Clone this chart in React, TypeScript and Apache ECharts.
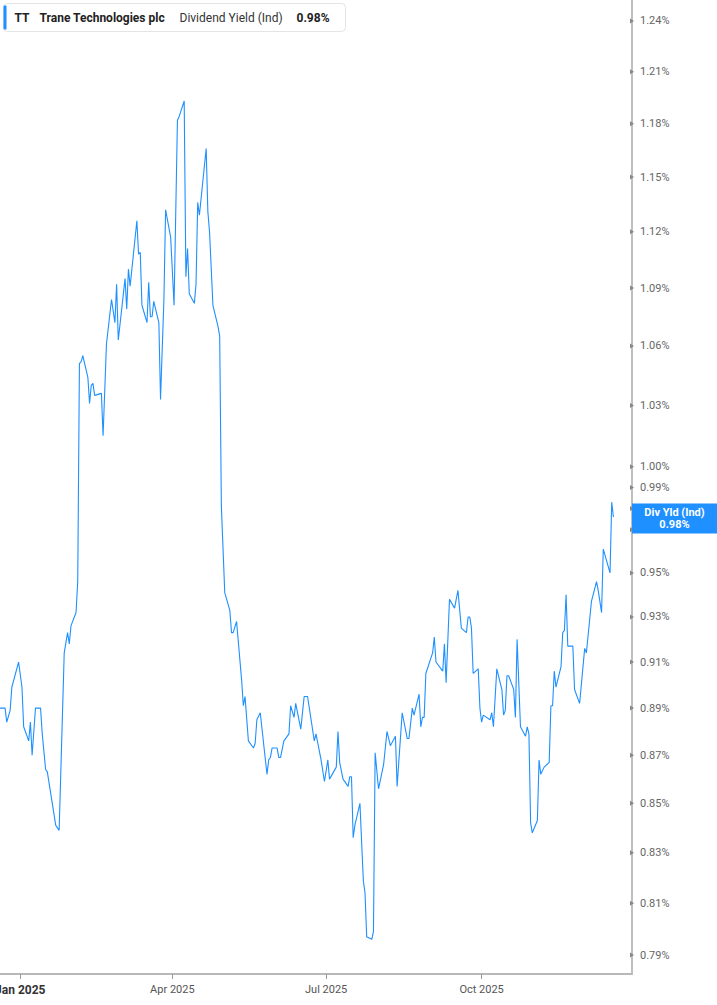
import React, { useEffect, useRef } from "react";
import * as echarts from "echarts";

// daily dividend yield (%) for TT
const dates = [
  "2024-12-20", "2024-12-23", "2024-12-24", "2024-12-26", "2024-12-27", "2024-12-31",
  "2025-01-02", "2025-01-03", "2025-01-06", "2025-01-07", "2025-01-08", "2025-01-10",
  "2025-01-13", "2025-01-14", "2025-01-16", "2025-01-17", "2025-01-22", "2025-01-24",
  "2025-01-27", "2025-01-29", "2025-01-30", "2025-01-31", "2025-02-03", "2025-02-04",
  "2025-02-05", "2025-02-06", "2025-02-07", "2025-02-10", "2025-02-11", "2025-02-12",
  "2025-02-13", "2025-02-14", "2025-02-18", "2025-02-19", "2025-02-21", "2025-02-24",
  "2025-02-26", "2025-02-27", "2025-02-28", "2025-03-04", "2025-03-05", "2025-03-06",
  "2025-03-07", "2025-03-11", "2025-03-12", "2025-03-13", "2025-03-14", "2025-03-17",
  "2025-03-18", "2025-03-19", "2025-03-20", "2025-03-21", "2025-03-24", "2025-03-25",
  "2025-03-27", "2025-03-28", "2025-03-31", "2025-04-02", "2025-04-04", "2025-04-05",
  "2025-04-08", "2025-04-09", "2025-04-10", "2025-04-11", "2025-04-14", "2025-04-15",
  "2025-04-16", "2025-04-17", "2025-04-21", "2025-04-22", "2025-04-23", "2025-04-25",
  "2025-04-28", "2025-04-29", "2025-04-30", "2025-05-02", "2025-05-05", "2025-05-06",
  "2025-05-07", "2025-05-09", "2025-05-12", "2025-05-13", "2025-05-14", "2025-05-16",
  "2025-05-19", "2025-05-20", "2025-05-21", "2025-05-23", "2025-05-27", "2025-05-28",
  "2025-05-29", "2025-05-30", "2025-06-02", "2025-06-03", "2025-06-04", "2025-06-06",
  "2025-06-09", "2025-06-10", "2025-06-12", "2025-06-13", "2025-06-16", "2025-06-18",
  "2025-06-20", "2025-06-24", "2025-06-25", "2025-06-28", "2025-06-30", "2025-07-02",
  "2025-07-03", "2025-07-07", "2025-07-08", "2025-07-09", "2025-07-11", "2025-07-14",
  "2025-07-15", "2025-07-16", "2025-07-17", "2025-07-18", "2025-07-21", "2025-07-23",
  "2025-07-24", "2025-07-25", "2025-07-28", "2025-07-29", "2025-07-30", "2025-08-01",
  "2025-08-04", "2025-08-06", "2025-08-08", "2025-08-11", "2025-08-12", "2025-08-15",
  "2025-08-18", "2025-08-19", "2025-08-21", "2025-08-22", "2025-08-25", "2025-08-26",
  "2025-08-27", "2025-08-28", "2025-08-29", "2025-09-02", "2025-09-03", "2025-09-04",
  "2025-09-08", "2025-09-09", "2025-09-10", "2025-09-12", "2025-09-15", "2025-09-17",
  "2025-09-19", "2025-09-22", "2025-09-23", "2025-09-24", "2025-09-25", "2025-09-26",
  "2025-09-29", "2025-09-30", "2025-10-01", "2025-10-02", "2025-10-06", "2025-10-07",
  "2025-10-08", "2025-10-10", "2025-10-13", "2025-10-14", "2025-10-15", "2025-10-16",
  "2025-10-17", "2025-10-19", "2025-10-20", "2025-10-21", "2025-10-22", "2025-10-24",
  "2025-10-27", "2025-10-28", "2025-10-29", "2025-10-30", "2025-10-31", "2025-11-03",
  "2025-11-04", "2025-11-05", "2025-11-07", "2025-11-10", "2025-11-11", "2025-11-12",
  "2025-11-13", "2025-11-14", "2025-11-17", "2025-11-18", "2025-11-19", "2025-11-20",
  "2025-11-21", "2025-11-24", "2025-11-25", "2025-11-28", "2025-12-01", "2025-12-02",
  "2025-12-05", "2025-12-08", "2025-12-09", "2025-12-11", "2025-12-12", "2025-12-16",
  "2025-12-17", "2025-12-18",
];

const yieldValues = [
  0.890, 0.890, 0.884, 0.889, 0.899, 0.910,
  0.899, 0.882, 0.876, 0.884, 0.870, 0.890,
  0.890, 0.879, 0.864, 0.863, 0.841, 0.839,
  0.914, 0.923, 0.918, 0.926, 0.932, 0.946,
  1.051, 1.052, 1.055, 1.044, 1.031, 1.040,
  1.041, 1.035, 1.036, 1.015, 1.061, 1.084,
  1.072, 1.092, 1.063, 1.095, 1.079, 1.100,
  1.091, 1.126, 1.108, 1.109, 1.081, 1.072,
  1.093, 1.075, 1.075, 1.083, 1.072, 1.033,
  1.084, 1.132, 1.117, 1.081, 1.182, 1.184,
  1.193, 1.096, 1.111, 1.087, 1.082, 1.092,
  1.136, 1.129, 1.166, 1.131, 1.120, 1.081,
  1.070, 1.065, 0.981, 0.941, 0.933, 0.923,
  0.923, 0.928, 0.902, 0.891, 0.895, 0.876,
  0.873, 0.875, 0.885, 0.888, 0.862, 0.868,
  0.869, 0.873, 0.873, 0.869, 0.869, 0.876,
  0.879, 0.891, 0.886, 0.892, 0.881, 0.895,
  0.895, 0.876, 0.879, 0.868, 0.859, 0.868,
  0.860, 0.865, 0.880, 0.867, 0.860, 0.857,
  0.861, 0.861, 0.836, 0.841, 0.850, 0.819,
  0.814, 0.797, 0.796, 0.799, 0.871, 0.856,
  0.866, 0.880, 0.874, 0.878, 0.857, 0.888,
  0.877, 0.877, 0.890, 0.887, 0.896, 0.882,
  0.886, 0.886, 0.905, 0.914, 0.921, 0.910,
  0.906, 0.918, 0.901, 0.938, 0.934, 0.942,
  0.925, 0.923, 0.930, 0.930, 0.925, 0.905,
  0.907, 0.890, 0.884, 0.887, 0.885, 0.888,
  0.882, 0.907, 0.898, 0.887, 0.889, 0.904,
  0.904, 0.900, 0.898, 0.886, 0.920, 0.882,
  0.878, 0.882, 0.879, 0.842, 0.838, 0.843,
  0.868, 0.862, 0.865, 0.867, 0.891, 0.891,
  0.906, 0.899, 0.908, 0.923, 0.924, 0.940,
  0.917, 0.917, 0.898, 0.892, 0.916, 0.914,
  0.937, 0.946, 0.942, 0.932, 0.961, 0.950,
  0.983, 0.976,
];

// right axis tick labels (two tick runs, as on the source chart)
const upperTicks = [1.24, 1.21, 1.18, 1.15, 1.12, 1.09, 1.06, 1.03, 1.0];
const lowerTicks = [0.99, 0.97, 0.95, 0.93, 0.91, 0.89, 0.87, 0.85, 0.83, 0.81, 0.79];

const quarterTicks = ["2025-01-01", "2025-04-01", "2025-07-01", "2025-10-01"];
const monthNames = ["Jan", "Feb", "Mar", "Apr", "May", "Jun", "Jul", "Aug", "Sep", "Oct", "Nov", "Dec"];

const FONT = "Roboto, 'Noto Sans', sans-serif";
const BLUE = "#1e90ff";

const ts = (d: string) => new Date(d + "T00:00:00Z").getTime();

const App: React.FC = () => {
  const chartRef = useRef<HTMLDivElement>(null);

  useEffect(() => {
    if (!chartRef.current) return;
    document.body.style.margin = "0";

    const chart = echarts.init(chartRef.current, undefined, { renderer: "svg" });
    const last = yieldValues[yieldValues.length - 1];
    const quarterValues = quarterTicks.map(ts);

    const tickItems = [...upperTicks, ...lowerTicks].map((v) => ({ yAxis: v }));

    const option = {
      animation: false,
      textStyle: { fontFamily: FONT },
      grid: {
        left: 0,
        right: 85,
        top: 0,
        bottom: 31,
        containLabel: false,
        outerBoundsMode: "none",
      },
      xAxis: {
        type: "value",
        min: ts("2024-12-20"),
        max: ts("2025-12-29"),
        axisLine: { show: true, lineStyle: { color: "#b8b8b8", width: 2 } },
        axisTick: {
          show: true,
          length: 5,
          customValues: quarterValues,
          lineStyle: { color: "#999", width: 1 },
        },
        splitLine: { show: false },
        axisLabel: {
          customValues: quarterValues,
          margin: 10,
          fontFamily: FONT,
          formatter: (value: number) => {
            const d = new Date(value);
            const m = d.getUTCMonth();
            const txt = `${monthNames[m]} ${d.getUTCFullYear()}`;
            return m === 0 ? `{y|${txt}}` : `{m|${txt}}`;
          },
          rich: {
            y: { fontSize: 12, fontWeight: "bold", color: "#333", fontFamily: FONT },
            m: { fontSize: 11, color: "#555", fontFamily: FONT },
          },
        },
      },
      yAxis: {
        type: "log",
        position: "right",
        min: 0.7828,
        max: 1.2526,
        axisLine: { show: true, lineStyle: { color: "#aaa", width: 1.5 } },
        axisTick: { show: false },
        axisLabel: { show: false },
        splitLine: { show: false },
      },
      graphic: [
        {
          type: "group",
          left: 3,
          top: 3,
          children: [
            {
              type: "rect",
              shape: { x: 0, y: 0, width: 342, height: 28, r: 4 },
              style: { fill: "#fff", stroke: "#e4e4e4", lineWidth: 1 },
            },
            {
              type: "rect",
              shape: { x: 0, y: 2, width: 3, height: 24, r: 1 },
              style: { fill: BLUE },
            },
            {
              type: "text",
              x: 11,
              y: 14,
              style: { text: "TT", fontSize: 12, fontWeight: "bold", fill: "#222", verticalAlign: "middle", fontFamily: FONT },
            },
            {
              type: "text",
              x: 36,
              y: 14,
              style: { text: "Trane Technologies plc", fontSize: 12, fontWeight: "bold", fill: "#222", verticalAlign: "middle", fontFamily: FONT },
            },
            {
              type: "text",
              x: 176,
              y: 14,
              style: { text: "Dividend Yield (Ind)", fontSize: 12, fill: "#333", verticalAlign: "middle", fontFamily: FONT },
            },
            {
              type: "text",
              x: 293,
              y: 14,
              style: { text: `${last.toFixed(2)}%`, fontSize: 12, fontWeight: "bold", fill: "#222", verticalAlign: "middle", fontFamily: FONT },
            },
          ],
        },
      ],
      series: [
        {
          type: "line",
          data: dates.map((d, i) => [ts(d), yieldValues[i]]),
          showSymbol: false,
          symbol: "none",
          clip: false,
          lineStyle: { color: BLUE, width: 1.1 },
          markLine: {
            silent: true,
            animation: false,
            symbol: ["none", "triangle"],
            symbolSize: [5, 4],
            lineStyle: { width: 0, color: "#888", type: "solid" },
            label: {
              position: "end",
              distance: 8,
              color: "#666",
              fontSize: 11,
              fontFamily: FONT,
              formatter: (p: any) => `${Number(p.value).toFixed(2)}%`,
            },
            data: [
              ...tickItems,
              {
                yAxis: last,
                symbol: "none",
                lineStyle: { width: 0 },
                label: {
                  position: "end",
                  distance: 0,
                  offset: [0, 10],
                  backgroundColor: BLUE,
                  padding: [3, 0, 3, 0],
                  formatter: `{t|Div Yld (Ind)}\n{t|${last.toFixed(2)}%}`,
                  rich: {
                    t: {
                      color: "#fff",
                      fontWeight: "bold",
                      fontSize: 11,
                      lineHeight: 12,
                      width: 85,
                      align: "center",
                      fontFamily: FONT,
                    },
                  },
                },
              },
            ],
          },
        },
      ],
    };

    chart.setOption(option as any);

    return () => {
      chart.dispose();
    };
  }, []);

  return (
    <div
      ref={chartRef}
      style={{ position: "absolute", left: 0, top: 0, width: 717, height: 1005, background: "#fff" }}
    />
  );
};

export default App;
